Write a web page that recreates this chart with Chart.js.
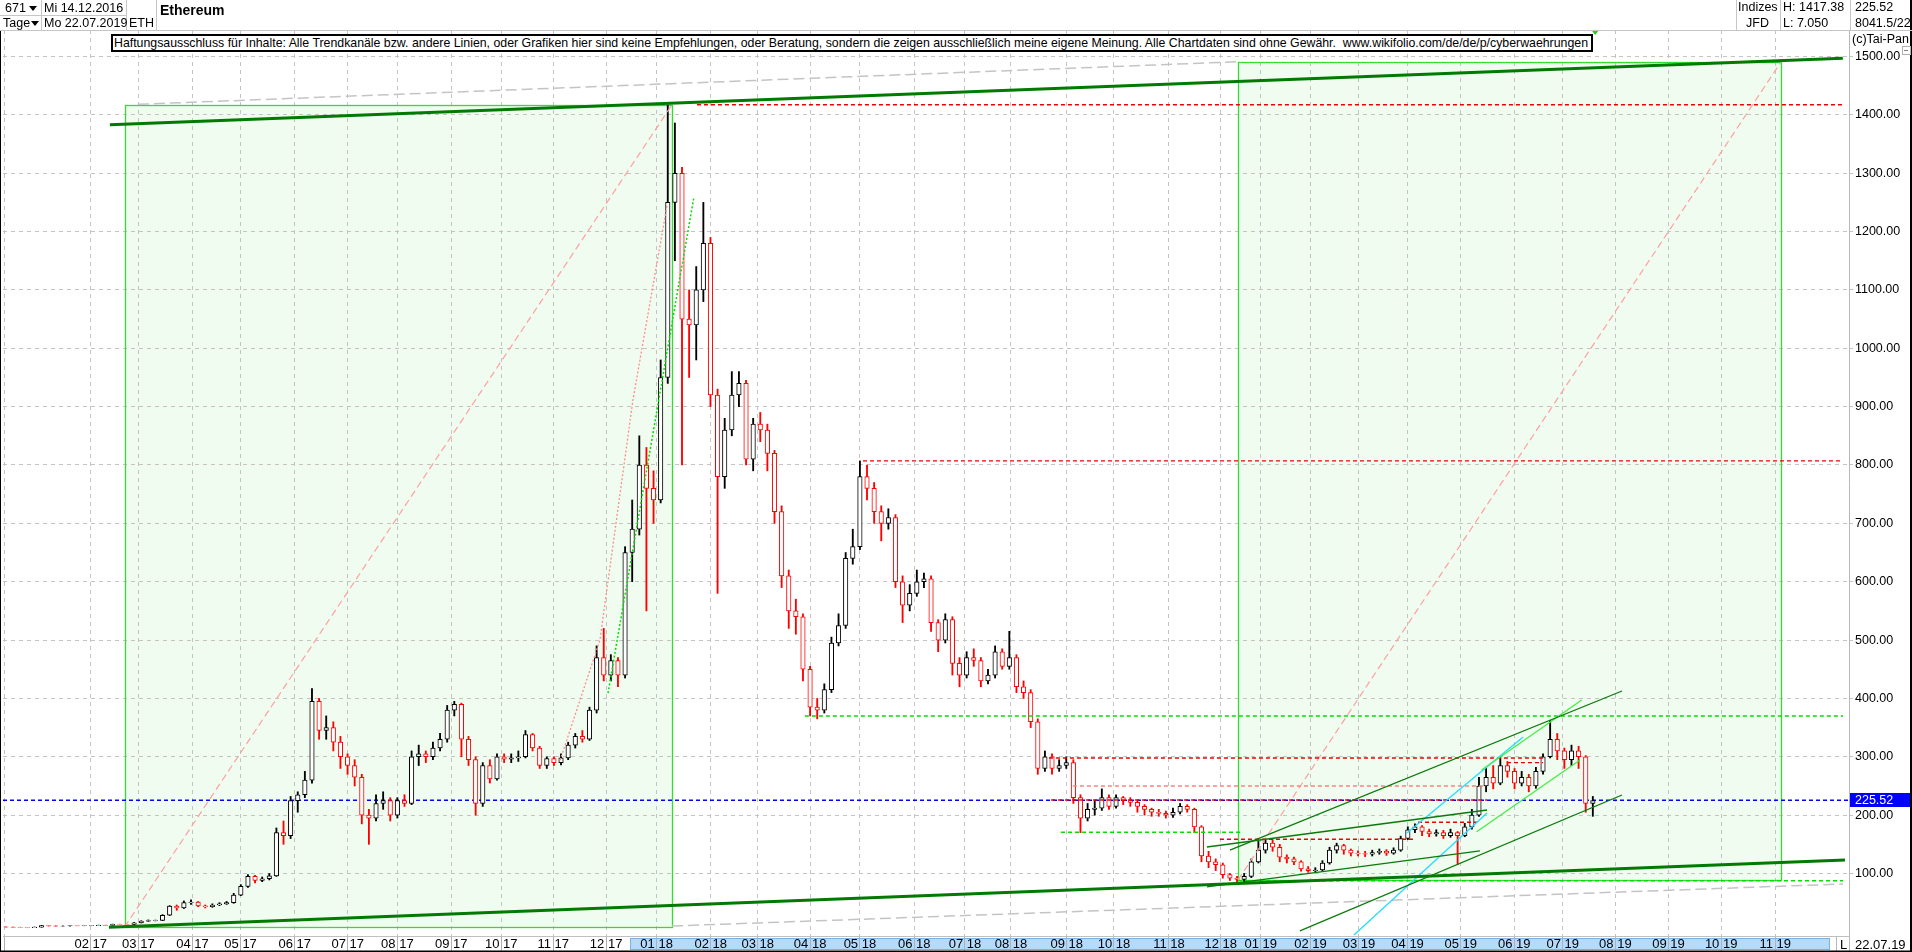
<!DOCTYPE html>
<html lang="de"><head><meta charset="utf-8"><title>Ethereum</title>
<script src="https://cdn.jsdelivr.net/npm/chart.js@4.4.1/dist/chart.umd.min.js"></script>
<style>
html,body{margin:0;padding:0;background:#fff;overflow:hidden;width:1912px;height:952px}
#wrap{position:relative;width:1912px;height:952px;overflow:hidden;font-family:"Liberation Sans",Arial,sans-serif;color:#000}
#chart{position:absolute;left:0;top:0}
.t{position:absolute;white-space:nowrap;font-size:12.5px;line-height:15px}
.v{position:absolute;width:1px;background:#c6c6c6}
.h{position:absolute;height:1px;background:#c6c6c6}
.tri{position:absolute;width:0;height:0;border-left:4px solid transparent;border-right:4px solid transparent;border-top:5px solid #000}
#disc{position:absolute;left:111px;top:34px;width:1482px;height:18px;box-sizing:border-box;border:2px solid #000;background:#fff;overflow:hidden}
#disc span{position:absolute;left:1px;top:-1px;font-size:13px;line-height:16px;white-space:nowrap;transform-origin:0 0}
</style></head><body><div id="wrap">
<canvas id="chart" width="1912" height="952"></canvas>
<div class="h" style="left:0;top:30px;width:1912px"></div>
<div class="h" style="left:0;top:15px;width:126px"></div>
<div class="v" style="left:41px;top:0;height:30px"></div>
<div class="v" style="left:126px;top:0;height:30px"></div>
<div class="v" style="left:156px;top:0;height:30px"></div>
<div class="t" style="left:5px;top:1px">671</div><div class="tri" style="left:29px;top:6px"></div>
<div class="t" style="left:3px;top:16px">Tage</div><div class="tri" style="left:31px;top:21px"></div>
<div class="t" style="left:44px;top:1px">Mi 14.12.2016</div>
<div class="t" style="left:44px;top:16px">Mo 22.07.2019</div>
<div class="t" style="left:129px;top:16px">ETH</div>
<div class="t" style="left:160px;top:3px;font-size:14px;font-weight:bold">Ethereum</div>
<div class="v" style="left:1736px;top:0;height:30px"></div>
<div class="v" style="left:1780px;top:0;height:30px"></div>
<div class="v" style="left:1850px;top:0;height:30px"></div>
<div class="t" style="left:1738px;top:0px">Indizes</div>
<div class="t" style="left:1746px;top:16px">JFD</div>
<div class="t" style="left:1783px;top:0px">H: 1417.38</div>
<div class="t" style="left:1783px;top:16px">L: 7.050</div>
<div class="t" style="left:1855px;top:0px">225.52</div>
<div class="t" style="left:1855px;top:16px">8041.5/22.07</div>
<div class="t" style="left:1852px;top:32px">(c)Tai-Pan</div>
<div style="position:absolute;left:1902px;top:46px;width:7px;height:7px;border:1px solid #b0b0b0;background:#fff"></div>
<div style="position:absolute;left:1904px;top:50px;width:4px;height:1px;background:#808080"></div>
<div id="disc"><span id="disctext">Haftungsausschluss für Inhalte: Alle Trendkanäle bzw. andere Linien, oder Grafiken hier sind keine Empfehlungen, oder Beratung, sondern die zeigen ausschließlich meine eigene Meinung. Alle Chartdaten sind ohne Gewähr.&nbsp; www.wikifolio.com/de/de/p/cyberwaehrungen</span></div>
<div class="t" style="left:1840px;top:937px;font-size:13px">L</div>
<div class="t" style="left:1855px;top:937px;font-size:13px">22.07.19</div>
</div>
<script>
// ---------- data (one candle = 3 trading days, starting 14.12.2016) ----------
const CANDLE_STEP = 3;
const open = [
8.4,8.2,7.8,7.4,7.2,8.0,10.6,10.3,9.8,10.0,
10.6,10.5,10.6,10.8,11.3,11.2,13.0,12.8,12.6,15.5,
18.5,19.5,19.8,28.5,44,41,50,51,44.5,43,
46,48,50,63,78,95,88,91,96,170,
165,225,235,260,395,345,350,325,300,285,
265,200,195,220,225,200,225,220,300,305,
300,315,330,380,390,330,295,220,285,262,
300,296,298,300,338,315,285,297,290,298,
320,335,330,380,470,440,465,440,650,690,
800,760,740,950,1250,1300,1050,1040,1100,1180,
920,780,860,920,940,810,870,860,820,720,
610,550,540,450,385,380,415,495,525,640,
660,780,760,720,700,710,600,560,580,600,
605,530,500,535,460,440,470,465,430,440,
480,455,470,420,410,360,280,300,280,285,
290,230,195,210,212,230,215,230,225,222,
215,210,205,203,200,205,215,210,180,130,
120,115,98,92,90,95,120,140,152,145,
128,125,120,108,105,106,118,140,148,140,
135,134,133,136,138,135,140,160,175,180,
172,168,170,165,170,165,180,200,250,265,
255,285,275,255,265,250,275,300,330,310,
295,310,300,220];
const high = [
8.6,8.4,8.0,7.6,8.3,11.2,11.0,10.5,10.3,10.9,
10.8,10.9,11.0,11.6,11.5,13.3,13.2,13.0,16.0,19.0,
20.5,20.2,29.5,45,46,53,55,52,46,48,
50,52,66,81,98,97,94,100,178,190,
232,240,275,417,400,370,360,335,305,295,
270,210,235,240,230,230,235,310,320,310,
325,340,388,395,392,335,300,290,295,305,
305,305,310,345,340,318,300,300,305,325,
340,345,385,490,520,475,470,660,740,850,
830,790,980,1417.38,1386,1310,1100,1140,1250,1190,
930,880,960,960,945,880,890,870,825,730,
620,570,545,455,400,425,505,545,650,690,
807,800,770,730,725,715,610,595,620,615,
610,535,545,540,470,480,485,470,450,490,
485,515,475,430,415,365,310,305,295,300,
295,235,220,225,245,235,235,232,230,225,
218,212,210,207,212,220,218,212,182,138,
125,118,100,95,100,125,155,158,158,150,
132,128,122,112,110,122,145,152,150,142,
139,138,140,142,141,144,164,180,185,182,
176,175,174,176,172,186,210,265,280,285,
300,292,280,275,270,282,305,362,340,315,
320,318,302,232];
const low = [
7.9,7.6,7.2,7.05,7.1,7.9,9.9,9.6,9.6,9.9,
10.3,10.4,10.5,10.7,10.9,11.1,12.5,12.3,12.5,15.3,
18.0,18.8,19.2,28,37,40,47,43,41,42,
45,47,49,62,76,84,86,89,95,150,
160,205,230,255,330,330,310,280,270,250,
185,150,190,210,190,195,215,218,285,290,
295,310,325,370,300,285,200,215,255,260,
290,290,292,298,310,280,280,285,286,295,
315,325,328,375,430,430,420,435,600,680,
550,700,735,940,1150,800,950,980,1080,900,
580,760,850,900,800,790,840,790,700,590,
520,510,430,370,365,375,410,490,520,630,
655,740,700,670,690,590,530,550,575,590,
515,480,495,440,420,435,455,420,425,435,
450,450,410,400,350,270,275,270,275,280,
220,170,190,200,208,210,212,218,215,205,
200,198,198,195,196,202,205,170,120,110,
105,92,88,84,86,93,118,135,138,120,
118,115,104,102,102,104,116,135,133,130,
130,129,130,133,131,133,138,158,170,165,
163,164,160,162,115,163,176,198,240,245,
252,265,245,250,240,246,270,298,295,280,
285,280,205,198];
const close = [
8.2,7.8,7.4,7.2,8.0,10.6,10.3,9.8,10.0,10.6,
10.5,10.6,10.8,11.3,11.2,13.0,12.8,12.6,15.5,18.5,
19.5,19.8,28.5,44,41,50,51,44.5,43,46,
48,50,63,78,95,88,91,96,170,165,
225,235,260,395,345,350,325,300,285,265,
200,195,220,225,200,225,220,300,305,300,
315,330,380,390,330,295,220,285,262,300,
296,298,300,338,315,285,297,290,298,320,
335,330,380,470,440,465,440,650,690,800,
760,740,950,1250,1300,1050,1040,1100,1180,920,
780,860,920,940,810,870,860,820,720,610,
550,540,450,385,380,415,495,525,640,660,
780,760,720,700,710,600,560,580,600,605,
530,500,535,460,440,470,465,430,440,480,
455,470,420,410,360,280,300,280,285,290,
230,195,210,212,230,215,230,225,222,215,
210,205,203,200,205,215,210,180,130,120,
115,98,92,90,95,120,140,152,145,128,
125,120,108,105,106,118,140,148,140,135,
134,133,136,138,135,140,160,175,180,172,
168,170,165,170,165,180,200,250,265,255,
285,275,255,265,250,275,300,330,310,295,
310,300,220,225];

// x axis: month starts in trading-day units
const monthTickBars = [-0.63,35.7,55.8,78.6,98.9,121.7,144.1,165.0,187.7,208.8,230.7,253.0,274.3,297.1,316.9,339.0,360.0,382.9,404.3,423.7,447.2,467.1,490.3,512.1,529.0,550.0,570.4,590.9,613.3,635.9,656.3,678.5,700.9,723.1,745.9];
const monthTickLabels = ['','02 17','03 17','04 17','05 17','06 17','07 17','08 17','09 17','10 17','11 17','12 17','01 18','02 18','03 18','04 18','05 18','06 18','07 18','08 18','09 18','10 18','11 18','12 18','01 19','02 19','03 19','04 19','05 19','06 19','07 19','08 19','09 19','10 19','11 19'];
const priceTicks = [100,200,300,400,500,600,700,800,900,1000,1100,1200,1300,1400,1500];
const lastPrice = 225.52;
const X_RANGE = [-1.265, 777.0];
const Y_RANGE = [-7.1, 1545.4];
const scrollBand = [263.0, 768.5];

// drawing tools, in [trading day, price]
const boxLeft  = [[50.0, 8.3], [280.8, 1417.38]];
const boxRight = [[519.4, 88.9], [748.4, 1491]];
const channelUpper = [[43.8, 1383], [774.4, 1497]];
const channelLower = [[43.4, 7.8], [775.3, 123.1]];
const grayUpper = [[55.6, 1418], [519.4, 1491]];
const grayLower = [[280.8, 10], [774.5, 82]];
const diagLeft = [[50.0, 8.3], [280.8, 1417.38]];
const diagRight = [[519.4, 88.9], [748.4, 1491]];
const rallyGreen = [[253.8, 409], [290.0, 1259]];
const rallyPink = [[233.6, 294], [250.4, 500], [264.3, 911], [278.7, 1245]];
const up2019a = [[516.0, 140.2], [681.3, 412.7]];
const up2019b = [[545.5, 1.6], [681.3, 234.5]];
const mid2019a = [[506.3, 145.4], [624.4, 208.8]];
const mid2019b = [[506.3, 76.9], [621.4, 138.6]];
const lime2019a = [[622.1, 277.4], [664.3, 397.3]];
const lime2019b = [[620.0, 171.6], [663.6, 294.5]];
const cyan2019a = [[568.3, -5.4], [624.4, 203.6]];
const cyan2019b = [[590.6, 169.4], [639.6, 333.9]];
// horizontal levels: [price, from, to]
const redLevels = [[1417.38, 291.3, 774.5], [807, 361.3, 774.5], [298, 439.7, 648.8], [226, 440.6, 624.4], [158.6, 511.8, 593.2], [187.7, 595.3, 620.2], [290, 632.8, 648.0]];
const pinkLevels = [[250, 449.8, 622.7]];
const greenLevels = [[370, 336.8, 774.5], [170.6, 444.8, 521.5], [87.7, 519.4, 774.5]];

// ---------- chart ----------
Chart.defaults.font.family = '"Liberation Sans", Arial, sans-serif';
const candleX = open.map((_, i) => i * CANDLE_STEP);
const candleColor = open.map((o, i) => close[i] >= o ? '#000000' : '#ff0000');

function seg(points, color, width, dash, order) {
  return { type: 'line', data: points.map(p => ({ x: p[0], y: p[1] })), borderColor: color, borderWidth: width,
    borderDash: dash || [], pointRadius: 0, fill: false, tension: 0, order: order };
}
const datasets = [];
datasets.push({ type: 'bar', label: 'Docht', data: candleX.map((x, i) => ({ x, y: [low[i], high[i]] })),
  backgroundColor: candleColor, borderWidth: 0, barThickness: 1.2, grouped: false, order: 6 });
datasets.push({ type: 'bar', label: 'Kerze', data: candleX.map((x, i) => ({ x, y: [open[i], close[i]] })),
  backgroundColor: '#ffffff', borderColor: candleColor, borderWidth: 1, borderSkipped: false, barThickness: 4.5, grouped: false, order: 5 });
datasets.push(seg([[X_RANGE[0], lastPrice], [X_RANGE[1], lastPrice]], '#0000ff', 1.3, [4, 3], 7));
datasets.push(seg(grayUpper, '#c4c4c4', 1.5, [11, 5], 4));
datasets.push(seg(grayLower, '#c4c4c4', 1.5, [11, 5], 4));
datasets.push(seg(diagLeft, '#ffa0a0', 1.2, [7, 4], 4));
datasets.push(seg(diagRight, '#ffa0a0', 1.2, [7, 4], 4));
datasets.push(seg(rallyPink, '#ff8c8c', 1.3, [2, 2], 4));
datasets.push(seg(rallyGreen, '#00dd00', 1.5, [2, 2], 4));
redLevels.forEach(l => datasets.push(seg([[l[1], l[0]], [l[2], l[0]]], '#ee0000', 1.4, [4, 3], 3)));
pinkLevels.forEach(l => datasets.push(seg([[l[1], l[0]], [l[2], l[0]]], '#ff8080', 1.4, [4, 3], 3)));
greenLevels.forEach(l => datasets.push(seg([[l[1], l[0]], [l[2], l[0]]], '#00e000', 1.4, [4, 3], 3)));
[up2019a, up2019b, mid2019a, mid2019b].forEach(p => datasets.push(seg(p, '#0a7a0a', 1.3, [], 2)));
[lime2019a, lime2019b].forEach(p => datasets.push(seg(p, '#44ee44', 1.3, [], 2)));
[cyan2019a, cyan2019b].forEach(p => datasets.push(seg(p, '#22ddff', 1.3, [], 2)));
datasets.push(seg(channelUpper, '#007a00', 3, [], 1));
datasets.push(seg(channelLower, '#007a00', 3, [], 1));

function boxPx(chart, b) {
  const { x, y } = chart.scales;
  const x0 = Math.round(x.getPixelForValue(b[0][0])) + 0.5, x1 = Math.round(x.getPixelForValue(b[1][0])) + 0.5;
  const y1 = Math.round(y.getPixelForValue(b[0][1])) + 0.5, y0 = Math.round(y.getPixelForValue(b[1][1])) + 0.5;
  return [x0, y0, x1 - x0, y1 - y0];
}
const decor = {
  id: 'decor',
  beforeDraw(chart) {
    const ctx = chart.ctx;
    ctx.save();
    ctx.fillStyle = '#f0fcf0';
    [boxLeft, boxRight].forEach(b => { const r = boxPx(chart, b); ctx.fillRect(r[0], r[1], r[2], r[3]); });
    const xs = chart.scales.x;
    const bx0 = Math.round(xs.getPixelForValue(scrollBand[0])), bx1 = Math.round(xs.getPixelForValue(scrollBand[1]));
    ctx.fillStyle = '#b6dafa';
    ctx.fillRect(bx0, 938.5, bx1 - bx0, 11);
    ctx.strokeStyle = '#7fb0e2'; ctx.lineWidth = 1;
    ctx.strokeRect(bx0 + 0.5, 938.5, bx1 - bx0, 11);
    ctx.restore();
  },
  beforeDatasetsDraw(chart) {
    const ctx = chart.ctx;
    ctx.save();
    ctx.strokeStyle = '#33dd33'; ctx.lineWidth = 1.3;
    [boxLeft, boxRight].forEach(b => { const r = boxPx(chart, b); ctx.strokeRect(r[0], r[1], r[2], r[3]); });
    ctx.restore();
  },
  afterDraw(chart) {
    const ctx = chart.ctx, a = chart.chartArea, ys = chart.scales.y, xs = chart.scales.x;
    ctx.save();
    const py = Math.round(ys.getPixelForValue(lastPrice));
    ctx.fillStyle = '#0000ff';
    ctx.fillRect(a.right + 1, py - 7, 61, 14);
    ctx.fillStyle = '#ffffff';
    ctx.font = '12.5px "Liberation Sans", Arial, sans-serif';
    ctx.textBaseline = 'middle';
    ctx.fillText(lastPrice.toFixed(2), a.right + 6, py + 0.5);
    // last bar marker
    const lx = xs.getPixelForValue((close.length - 1) * CANDLE_STEP + 1);
    ctx.fillStyle = '#22cc22';
    ctx.beginPath(); ctx.moveTo(lx - 3, a.top + 1); ctx.lineTo(lx + 3, a.top + 1); ctx.lineTo(lx, a.top + 5); ctx.closePath(); ctx.fill();
    // axis frame pieces
    ctx.fillStyle = '#b8b8b8';
    ctx.fillRect(a.right, a.bottom, 1, 952 - a.bottom);
    ctx.fillRect(1836, a.bottom, 1, 952 - a.bottom);
    ctx.fillStyle = '#000';
    ctx.fillRect(0, a.top, 1, 952 - a.top);
    ctx.fillRect(1910, 0, 2, 952);
    ctx.fillRect(0, 950.5, 1912, 1.5);
    ctx.restore();
  }
};

new Chart(document.getElementById('chart'), {
  type: 'bar',
  data: { datasets },
  options: {
    responsive: false, animation: false, devicePixelRatio: 1, events: [],
    layout: { padding: { top: 30, left: 3, right: 0, bottom: 0 } },
    plugins: { legend: { display: false }, tooltip: { enabled: false } },
    scales: {
      x: {
        type: 'linear', position: 'bottom', min: X_RANGE[0], max: X_RANGE[1], offset: false,
        afterBuildTicks: s => { s.ticks = monthTickBars.map(v => ({ value: v })); },
        afterFit: s => { s.height = 16; },
        grid: { color: '#c4c4c4', lineWidth: 1, drawTicks: true, tickLength: 16, tickColor: '#b0b0b0', offset: false },
        border: { display: true, color: '#c0c0c0', dash: [4, 4] },
        ticks: { autoSkip: false, maxRotation: 0, minRotation: 0, padding: -15, color: '#000', font: { size: 13 },
          callback: (v, i) => monthTickLabels[i] }
      },
      y: {
        type: 'linear', position: 'right', min: Y_RANGE[0], max: Y_RANGE[1],
        afterBuildTicks: s => { s.ticks = priceTicks.map(v => ({ value: v })); },
        afterFit: s => { s.width = 63; },
        grid: { color: '#c4c4c4', lineWidth: 1, drawTicks: true, tickLength: 4 },
        border: { display: true, color: '#b8b8b8', dash: [4, 4] },
        ticks: { padding: 2, color: '#000', font: { size: 12.5 }, callback: v => Number(v).toFixed(2) }
      }
    }
  },
  plugins: [decor]
});

// fit disclaimer text into its box
const dt = document.getElementById('disctext');
const w = dt.getBoundingClientRect().width;
dt.style.transform = 'scaleX(' + (1474 / w).toFixed(4) + ')';
</script>
</body></html>
